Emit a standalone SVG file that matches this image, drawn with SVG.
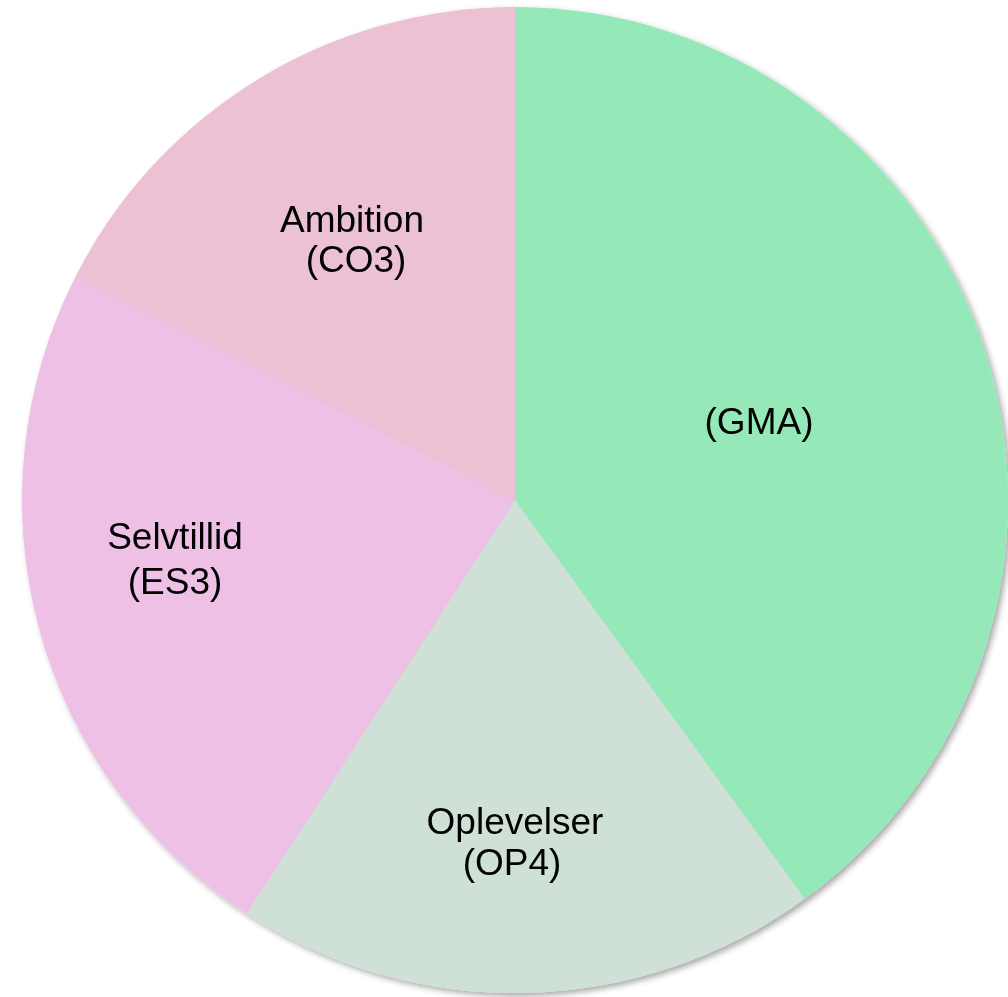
<svg xmlns="http://www.w3.org/2000/svg" width="1008" height="997" viewBox="0 0 1008 997">
<defs>
<filter id="sh" x="-10%" y="-10%" width="120%" height="120%">
<feGaussianBlur in="SourceAlpha" stdDeviation="3"/>
<feOffset dx="3" dy="3" result="b"/>
<feComponentTransfer><feFuncA type="linear" slope="0.35"/></feComponentTransfer>
<feMerge><feMergeNode/><feMergeNode in="SourceGraphic"/></feMerge>
</filter>
<style>
text{font-family:"Liberation Sans",Arial,sans-serif;font-size:37px;fill:#000;text-anchor:middle}
</style>
</defs>
<rect width="1008" height="997" fill="#fff"/>
<g filter="url(#sh)">
<g id="gma">
<path d="M515,500 L515,7 A493,493 0 0 1 804.8,898.8 Z" fill="#95E9B8"/>
<text x="759" y="434">(GMA)</text>
</g>
<g id="op4">
<path d="M515,500 L804.8,898.8 A493,493 0 0 1 246.5,913.5 Z" fill="#CFE0D6"/>
<text x="515" y="834">Oplevelser</text>
<text x="512" y="875">(OP4)</text>
</g>
<g id="es3">
<path d="M515,500 L246.5,913.5 A493,493 0 0 1 75.7,276.2 Z" fill="#EEC0E6"/>
<text x="175" y="549">Selvtillid</text>
<text x="175" y="594">(ES3)</text>
</g>
<g id="co3">
<path d="M515,500 L75.7,276.2 A493,493 0 0 1 515,7 Z" fill="#EBC1D3"/>
<text x="352" y="232">Ambition</text>
<text x="356" y="272">(CO3)</text>
</g>
</g>
</svg>
